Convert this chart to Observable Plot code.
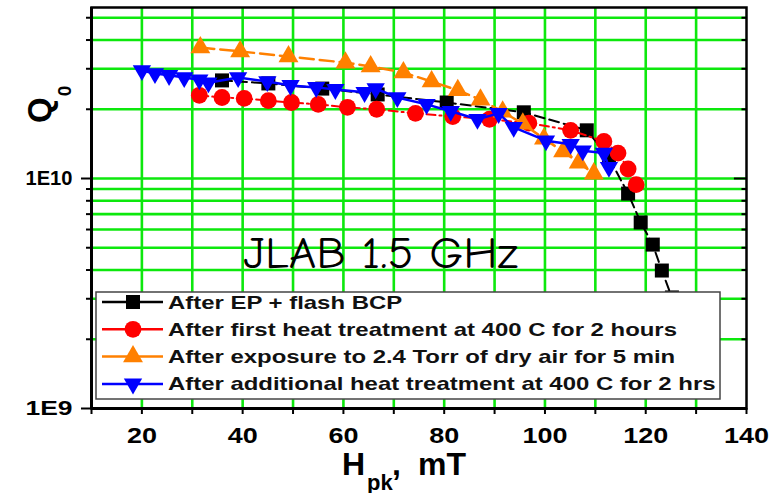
<!DOCTYPE html>
<html>
<head>
<meta charset="utf-8">
<script src="https://cdn.jsdelivr.net/npm/d3@7"></script>
<script src="https://cdn.jsdelivr.net/npm/@observablehq/plot@0.6"></script>
<style>
  html, body { margin: 0; padding: 0; background: #fff; overflow: hidden; }
  #chart svg { display: block; }
</style>
</head>
<body>
<div id="chart"></div>
<script>
// Q0 versus peak surface magnetic field for a 1.5 GHz niobium cavity
// after successive surface treatments.

const seriesNames = [
  "After EP + flash BCP",
  "After first heat treatment at 400 C for 2 hours",
  "After exposure to 2.4 Torr of dry air for 5 min",
  "After additional heat treatment at 400 C for 2 hrs"
];

// H_pk in mT, Q0 (dimensionless)
const epH = [35.9, 45.1, 55.8, 66.8, 80.5, 95.8, 108.3, 112.7, 116.5, 119.0, 121.4, 123.2, 125.2];
const epQ = [2.67e10, 2.59e10, 2.46e10, 2.32e10, 2.14e10, 1.94e10, 1.62e10, 1.23e10, 8.6e9, 6.44e9, 5.16e9, 3.98e9, 3.04e9];

const heat1H = [31.4, 35.9, 40.3, 45.1, 49.7, 55.0, 60.8, 66.6, 74.3, 81.7, 89.0, 96.8, 105.1, 111.7, 114.5, 116.5, 118.1];
const heat1Q = [2.30e10, 2.25e10, 2.23e10, 2.18e10, 2.14e10, 2.10e10, 2.04e10, 2.00e10, 1.92e10, 1.86e10, 1.81e10, 1.74e10, 1.62e10, 1.45e10, 1.29e10, 1.10e10, 9.4e9];

const airH = [31.6, 39.5, 49.1, 60.4, 65.4, 71.9, 77.5, 82.7, 87.2, 91.6, 95.6, 99.8, 103.6, 106.7, 109.7];
const airQ = [3.71e10, 3.57e10, 3.39e10, 3.19e10, 3.07e10, 2.89e10, 2.64e10, 2.42e10, 2.20e10, 1.95e10, 1.73e10, 1.49e10, 1.31e10, 1.17e10, 1.05e10];

const heat2H = [20.0, 22.6, 25.4, 28.4, 31.4, 33.2, 39.1, 44.9, 49.5, 54.6, 58.4, 64.2, 66.4, 70.7, 76.5, 81.3, 86.6, 90.8, 93.8, 100.2, 105.1, 107.5, 111.7, 112.7];
const heat2Q = [2.95e10, 2.86e10, 2.81e10, 2.75e10, 2.69e10, 2.61e10, 2.75e10, 2.64e10, 2.54e10, 2.49e10, 2.44e10, 2.37e10, 2.46e10, 2.25e10, 2.10e10, 1.96e10, 1.81e10, 1.92e10, 1.67e10, 1.46e10, 1.41e10, 1.32e10, 1.29e10, 1.12e10];

// axis ticks and labels
const xTicks = [10, 20, 30, 40, 50, 60, 70, 80, 90, 100, 110, 120, 130, 140];
const xGrid = [20, 30, 40, 50, 60, 70, 80, 90, 100, 110, 120, 130];
const xLabelValues = [20, 40, 60, 80, 100, 120, 140];
const yMajor = [1e9, 1e10];
const yMajorLabels = ["1E9", "1E10"];
const yMinor = [2e9, 3e9, 4e9, 5e9, 6e9, 7e9, 8e9, 9e9, 2e10, 3e10, 4e10, 5e10];
const annotation = "JLAB 1.5 GHz";

// drawing styles, one per series
const styles = [
  {color: "#000000", symbol: "square",   r: 7.9, rotate: 0,   dash: "10,5",      width: 2},
  {color: "#ff0000", symbol: "circle",   r: 8.4, rotate: 0,   dash: "9,4,2,4",   width: 2},
  {color: "#ff8000", symbol: "triangle", r: 7.4, rotate: 0,   dash: "14,6",      width: 2.5},
  {color: "#0000ff", symbol: "triangle", r: 6.8, rotate: 180, dash: null,        width: 2.5}
];

const seriesData = [[epH, epQ], [heat1H, heat1Q], [airH, airQ], [heat2H, heat2Q]]
  .map(([hs, qs]) => hs.map((h, i) => ({h, q: qs[i]})));

const GRID = "#0de80d";
const FONT = "'Liberation Sans', Arial, sans-serif";

const seriesMarks = seriesData.flatMap((rows, k) => {
  const s = styles[k];
  return [
    Plot.line(rows, {x: "h", y: "q", stroke: s.color, strokeWidth: s.width,
      strokeDasharray: s.dash ?? undefined}),
    Plot.dot(rows, {x: "h", y: "q", symbol: s.symbol, r: s.r, rotate: s.rotate,
      fill: s.color, stroke: "none"})
  ];
});

const chart = Plot.plot({
  width: 771,
  height: 493,
  marginLeft: 91,
  marginRight: 25,
  marginTop: 7,
  marginBottom: 85,
  style: {background: "#fff", fontFamily: FONT, color: "#000"},
  x: {domain: [10, 140], axis: null},
  y: {type: "log", domain: [1e9, 5.54e10], axis: null},
  marks: [
    Plot.ruleX(xGrid, {stroke: GRID, strokeWidth: 2.6}),
    Plot.ruleY([...yMinor, 1e10], {stroke: GRID, strokeWidth: 2.6}),
    ...seriesMarks,
    Plot.text([annotation], {x: 67.4, y: 4.7e9, text: d => d, textAnchor: "middle",
      lineAnchor: "middle", fontSize: 45, fill: "#000",
      fontFamily: "'Comic Sans MS', 'Comic Neue', 'DejaVu Sans', sans-serif"}),
    Plot.frame({stroke: "#000", strokeWidth: 2.5}),
    Plot.ruleX([10], {stroke: "#000", strokeWidth: 3}),
    Plot.ruleY([1e9], {stroke: "#000", strokeWidth: 3}),
    Plot.axisX(xTicks, {label: null, tickSize: 6, tickPadding: 13, strokeWidth: 2,
      tickFormat: d => xLabelValues.includes(d) ? String(d) : "",
      fontSize: 22, fontWeight: "bold"}),
    Plot.axisY(yMajor, {label: null, tickSize: 10, tickPadding: 9, strokeWidth: 2,
      tickFormat: d => yMajorLabels[yMajor.indexOf(d)], fontSize: 21, fontWeight: "bold"}),
    Plot.axisY(yMinor, {label: null, tickSize: 5, strokeWidth: 2, tickFormat: () => ""}),
    // inward ticks on the right edge
    Plot.ruleY(yMinor, {x1: 139.1, x2: 140, stroke: "#000", strokeWidth: 2}),
    Plot.ruleY([1e10], {x1: 137.6, x2: 140, stroke: "#000", strokeWidth: 2})
  ]
});

document.getElementById("chart").append(chart);

const svg = d3.select(chart);

// tick label widths
svg.selectAll("[aria-label='x-axis tick label'] text").each(function () {
  const t = this.textContent;
  if (t) d3.select(this).attr("textLength", 15 * t.length).attr("lengthAdjust", "spacingAndGlyphs")
    .attr("font-weight", "bold");
});
svg.selectAll("[aria-label='y-axis tick label'] text").each(function () {
  if (this.textContent) d3.select(this).attr("textLength", 47).attr("lengthAdjust", "spacingAndGlyphs")
    .attr("font-weight", "bold");
});
svg.selectAll("text").filter(function () { return this.textContent === annotation; })
  .attr("textLength", 275).attr("lengthAdjust", "spacingAndGlyphs");

// axis titles
const yTitle = svg.append("text")
  .attr("transform", "translate(51,123) rotate(-90)")
  .attr("text-anchor", "start")
  .attr("font-family", FONT)
  .attr("font-weight", "bold").attr("font-size", 33).attr("fill", "#000");
yTitle.append("tspan").text("Q");
yTitle.append("tspan").attr("font-size", 19).attr("dy", 20).attr("dx", 1).text("0");

const xTitle = svg.append("text")
  .attr("text-anchor", "start")
  .attr("font-family", FONT)
  .attr("font-weight", "bold").attr("font-size", 32).attr("fill", "#000");
xTitle.append("tspan").attr("x", 342).attr("y", 475).text("H");
xTitle.append("tspan").attr("x", 367).attr("y", 490).attr("font-size", 22).text("pk");
xTitle.append("tspan").attr("x", 392).attr("y", 475).text(",");
xTitle.append("tspan").attr("x", 418).attr("y", 475).text("mT");

// legend
const legend = svg.append("g");
legend.append("rect").attr("x", 96).attr("y", 292).attr("width", 624).attr("height", 107)
  .attr("fill", "#fff").attr("stroke", "#444").attr("stroke-width", 1.5);
seriesNames.forEach((name, k) => {
  const s = styles[k];
  const cy = 302 + k * 27.3;
  legend.append("line").attr("x1", 102).attr("x2", 163).attr("y1", cy).attr("y2", cy)
    .attr("stroke", s.color).attr("stroke-width", 2.5);
  const sym = s.symbol === "square" ? d3.symbolSquare : s.symbol === "circle" ? d3.symbolCircle : d3.symbolTriangle;
  legend.append("path").attr("d", d3.symbol(sym, Math.PI * s.r * s.r)())
    .attr("transform", `translate(133,${cy}) rotate(${s.rotate})`).attr("fill", s.color);
  legend.append("text").attr("transform", `translate(168,${cy + 6.5}) scale(1.33,1)`)
    .attr("text-anchor", "start")
    .attr("font-family", FONT).attr("font-weight", "bold")
    .attr("font-size", 18).attr("fill", "#111").text(name);
});
</script>
</body>
</html>
